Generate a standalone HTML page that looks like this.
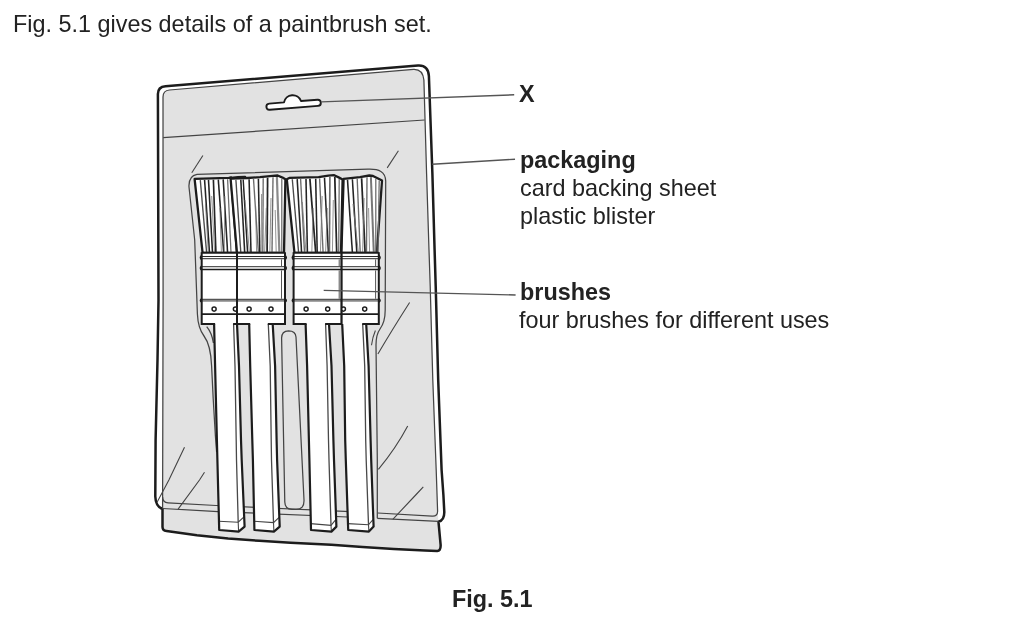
<!DOCTYPE html>
<html lang="en">
<head>
<meta charset="utf-8">
<title>Fig. 5.1</title>
<style>
html,body{margin:0;padding:0;background:#fff;}
body{width:1024px;height:617px;position:relative;overflow:hidden;font-family:"Liberation Sans",Arial,Helvetica,sans-serif;color:#222;}
svg{position:absolute;left:0;top:0;}
.t{position:absolute;white-space:nowrap;font-size:23.4px;line-height:30px;height:30px;will-change:transform;}
.b{font-weight:bold;}
</style>
</head>
<body>
<svg width="1024" height="617" viewBox="0 0 1024 617">
<path d="M157.9,94 C157.9,88.6 160.5,86.6 165.5,86.2 L418,65.6 C424.5,65.2 428.4,69 428.9,76 L432.4,174 L434.6,250 L435.7,286 L438.2,380 L441.6,470 L443.4,495 L444.3,512 Q444.4,520.4 438.5,521.8 L440.6,544.6 Q441,550.6 437.2,551 L437.2,551 L425,550.6 L393.8,549.1 L362.5,547 L331.3,544.8 L290.6,542.7 L259.4,540.8 L228.1,538.4 L196.9,535.3 L166.5,531 Q162.6,530.6 162.5,527 L162.5,509 Q155.6,506.6 155.3,496.5 L155.6,440 L157.5,360 L158.5,300 Z" fill="#fff" stroke="none"/>
<path d="M162.6,499 L163.0,97 C163.0,92.4 165,90.4 169.5,90.0 L413.5,69.3 C419.5,69 423.2,73 423.9,80 L426.6,174 L429.0,250 L430.2,286 L432.8,380 L436.2,470 L437.6,511 L438.5,521.8 L440.6,544.6 Q441,550.6 437.2,551 L437.2,551 L425,550.6 L393.8,549.1 L362.5,547 L331.3,544.8 L290.6,542.7 L259.4,540.8 L228.1,538.4 L196.9,535.3 L166.5,531 Q162.6,530.6 162.5,527 Z" fill="#e2e2e2" stroke="none"/>
<path d="M157.9,94 C157.9,88.6 160.5,86.6 165.5,86.2 L418,65.6 C424.5,65.2 428.4,69 428.9,76 L432.4,174 L434.6,250 L435.7,286 L438.2,380 L441.6,470 L443.4,495 L444.3,512 Q444.4,520.4 438.5,521.8 L440.6,544.6 Q441,550.6 437.2,551 L437.2,551 L425,550.6 L393.8,549.1 L362.5,547 L331.3,544.8 L290.6,542.7 L259.4,540.8 L228.1,538.4 L196.9,535.3 L166.5,531 Q162.6,530.6 162.5,527 L162.5,509 Q155.6,506.6 155.3,496.5 L155.6,440 L157.5,360 L158.5,300 Z" fill="none" stroke="#1c1c1c" stroke-width="2.5" stroke-linejoin="round"/>
<path d="M162.6,508.5 L162.6,499 L163.1,300 L163.0,97 C163.0,92.4 165,90.4 169.5,90.0 L413.5,69.3 C419.5,69 423.2,73 423.9,80 L426.6,174 L429.0,250 L430.2,286 L432.8,380 L436.2,470 L437.6,511 Q437.8,516.6 432,516.1 L377.8,513" fill="none" stroke="#444" stroke-width="1.25"/>
<path d="M162.6,497 Q162.8,502.6 168,502.9 L216,505.5 L372,512.7" fill="none" stroke="#444" stroke-width="1.25"/>
<path d="M162.6,508.5 L218,511.6 L372,518.0" fill="none" stroke="#444" stroke-width="1.25"/>
<path d="M377.3,518.3 L438.5,521.4" fill="none" stroke="#444" stroke-width="1.25"/>
<path d="M163.2,137.6 L424.6,120.0" fill="none" stroke="#444" stroke-width="1.25"/>
<path d="M269.2,103.6 L284.0,102.4 A8.85,8.85 0 0 1 301.0,101.0 L317.4,99.7 A3.1,3.1 0 0 1 318.0,105.9 L269.8,109.8 A3.1,3.1 0 0 1 269.2,103.6 Z" fill="#fff" stroke="#1c1c1c" stroke-width="1.9" stroke-linejoin="round"/>
<path d="M216.6,452 L215.4,436 L213.2,398.6 L211.6,366 Q210.8,345 204,336 Q198,328 197.4,314 L194.7,240 L189,187 Q188.4,176.0 197,174.4 L368,169.2 C379,168.8 385.4,171.6 385.7,181 L385.2,310 Q385.2,322 380,329 Q376,334.6 376,345 L377.3,460 L377.3,518.3" fill="none" stroke="#444" stroke-width="1.25"/>
<path d="M206.7,326.6 Q212,333 213.4,343" fill="none" stroke="#444" stroke-width="1.25"/>
<path d="M281.6,338 Q281.6,331 288.6,330.8 Q295.6,330.8 296,337 L304,500 Q304.4,509.4 296,509.4 L292,509.4 Q285,509.2 284.8,502 Z" fill="none" stroke="#444" stroke-width="1.25"/>
<path d="M202.9,155.5 L191.8,172.7" fill="none" stroke="#444" stroke-width="1.1"/>
<path d="M398.4,150.8 L387.2,167.9" fill="none" stroke="#444" stroke-width="1.1"/>
<path d="M409.6,302.5 Q392,330 377.9,354" fill="none" stroke="#444" stroke-width="1.1"/>
<path d="M375.4,330.5 Q372.6,337 371.5,345.2" fill="none" stroke="#444" stroke-width="1.1"/>
<path d="M184.5,447.2 L168.9,480 L157.2,501.9" fill="none" stroke="#444" stroke-width="1.1"/>
<path d="M204.5,472.2 L199.5,480 L178.1,509.2" fill="none" stroke="#444" stroke-width="1.1"/>
<path d="M407.7,425.9 Q396,448 378.4,469.3" fill="none" stroke="#444" stroke-width="1.1"/>
<path d="M423.3,486.9 L415.7,495 L392.8,519.3" fill="none" stroke="#444" stroke-width="1.1"/>
<path d="M194.6,178.9 L212.0,178.4 L228.8,177.8 L231.0,177.5 L237.0,253.0 L202.6,253.0Z" fill="#fff" stroke="#1c1c1c" stroke-width="2.3" stroke-linejoin="round"/>
<path d="M200.3,180.1 L206.6,252.6" fill="none" stroke="#4a4a4a" stroke-width="1.35"/>
<path d="M204.6,180.0 L209.5,252.6" fill="none" stroke="#242424" stroke-width="1.55"/>
<path d="M208.5,179.9 L212.5,252.6" fill="none" stroke="#242424" stroke-width="1.55"/>
<path d="M213.4,179.8 L215.9,252.6" fill="none" stroke="#242424" stroke-width="1.65"/>
<path d="M218.3,179.6 L223.7,252.6" fill="none" stroke="#242424" stroke-width="1.55"/>
<path d="M223.2,179.4 L227.6,252.6" fill="none" stroke="#242424" stroke-width="1.55"/>
<path d="M227.6,179.2 L231.0,252.6" fill="none" stroke="#6a6a6a" stroke-width="1.25"/>
<path d="M205.5,204.0 L208.3,252.6" fill="none" stroke="#777" stroke-width="0.8"/>
<path d="M211.7,196.0 L214.6,252.6" fill="none" stroke="#777" stroke-width="0.8"/>
<path d="M224.8,196.0 L224.2,252.6" fill="none" stroke="#777" stroke-width="0.8"/>
<path d="M219.9,208.0 L221.4,252.6" fill="none" stroke="#777" stroke-width="0.8"/>
<path d="M230.6,178.7 L247.4,178.0 L260.0,177.2 L272.7,175.9 L277.6,175.5 L282.5,177.6 L285.4,179.3 L284.0,253.0 L237.0,253.0Z" fill="#fff" stroke="#1c1c1c" stroke-width="2.3" stroke-linejoin="round"/>
<path d="M235.9,179.9 L240.8,252.6" fill="none" stroke="#4a4a4a" stroke-width="1.35"/>
<path d="M240.8,179.7 L244.7,252.6" fill="none" stroke="#242424" stroke-width="1.55"/>
<path d="M243.2,179.6 L247.6,252.6" fill="none" stroke="#242424" stroke-width="1.45"/>
<path d="M249.1,179.3 L251.0,252.6" fill="none" stroke="#242424" stroke-width="1.55"/>
<path d="M253.5,179.0 L258.4,252.6" fill="none" stroke="#6a6a6a" stroke-width="1.35"/>
<path d="M258.4,178.7 L259.8,252.6" fill="none" stroke="#242424" stroke-width="1.55"/>
<path d="M263.2,178.3 L262.8,252.6" fill="none" stroke="#6a6a6a" stroke-width="1.35"/>
<path d="M267.6,177.8 L267.1,252.6" fill="none" stroke="#242424" stroke-width="1.75"/>
<path d="M273.0,177.3 L272.0,252.6" fill="none" stroke="#6a6a6a" stroke-width="1.35"/>
<path d="M276.9,177.0 L279.4,252.6" fill="none" stroke="#8a8a8a" stroke-width="2.2"/>
<path d="M281.8,178.7 L281.8,252.6" fill="none" stroke="#6a6a6a" stroke-width="1.25"/>
<path d="M245.0,200.0 L249.4,252.6" fill="none" stroke="#777" stroke-width="0.8"/>
<path d="M255.6,206.0 L256.6,252.6" fill="none" stroke="#777" stroke-width="0.8"/>
<path d="M261.6,194.0 L261.2,252.6" fill="none" stroke="#777" stroke-width="0.8"/>
<path d="M266.3,208.0 L264.6,252.6" fill="none" stroke="#777" stroke-width="0.8"/>
<path d="M271.0,198.0 L269.8,252.6" fill="none" stroke="#777" stroke-width="0.8"/>
<path d="M275.2,210.0 L276.2,252.6" fill="none" stroke="#777" stroke-width="0.8"/>
<path d="M343.6,178.8 L360.0,177.1 L369.3,175.5 L373.0,176.0 L382.0,180.6 L376.8,253.0 L341.4,253.0Z" fill="#fff" stroke="#1c1c1c" stroke-width="2.3" stroke-linejoin="round"/>
<path d="M347.5,179.8 L352.4,252.6" fill="none" stroke="#242424" stroke-width="1.55"/>
<path d="M352.4,179.3 L356.8,252.6" fill="none" stroke="#242424" stroke-width="1.55"/>
<path d="M357.2,178.8 L360.2,252.6" fill="none" stroke="#6a6a6a" stroke-width="1.35"/>
<path d="M361.6,178.2 L365.1,252.6" fill="none" stroke="#242424" stroke-width="1.75"/>
<path d="M367.0,177.3 L366.5,252.6" fill="none" stroke="#6a6a6a" stroke-width="1.35"/>
<path d="M370.9,177.1 L373.8,252.6" fill="none" stroke="#777" stroke-width="2.0"/>
<path d="M375.8,178.8 L375.8,252.6" fill="none" stroke="#6a6a6a" stroke-width="1.25"/>
<path d="M379.2,180.6 L378.0,252.6" fill="none" stroke="#6a6a6a" stroke-width="1.25"/>
<path d="M353.0,204.0 L358.4,252.6" fill="none" stroke="#777" stroke-width="0.8"/>
<path d="M364.1,198.0 L362.6,252.6" fill="none" stroke="#777" stroke-width="0.8"/>
<path d="M368.6,208.0 L369.6,252.6" fill="none" stroke="#777" stroke-width="0.8"/>
<path d="M286.8,179.3 L289.3,177.9 L318.6,177.2 L328.4,175.7 L334.2,175.2 L339.1,177.6 L342.6,179.4 L341.0,253.0 L294.5,253.0Z" fill="#fff" stroke="#1c1c1c" stroke-width="2.3" stroke-linejoin="round"/>
<path d="M292.3,179.2 L298.6,252.6" fill="none" stroke="#4a4a4a" stroke-width="1.35"/>
<path d="M297.2,179.1 L301.6,252.6" fill="none" stroke="#242424" stroke-width="1.55"/>
<path d="M300.6,179.0 L304.5,252.6" fill="none" stroke="#6a6a6a" stroke-width="1.35"/>
<path d="M306.0,178.9 L307.4,252.6" fill="none" stroke="#242424" stroke-width="1.55"/>
<path d="M309.9,178.8 L315.7,252.6" fill="none" stroke="#242424" stroke-width="1.75"/>
<path d="M315.7,178.7 L317.2,252.6" fill="none" stroke="#242424" stroke-width="1.55"/>
<path d="M319.6,178.4 L323.1,252.6" fill="none" stroke="#6a6a6a" stroke-width="1.35"/>
<path d="M324.5,177.7 L328.4,252.6" fill="none" stroke="#242424" stroke-width="1.55"/>
<path d="M329.9,177.0 L329.4,252.6" fill="none" stroke="#6a6a6a" stroke-width="1.65"/>
<path d="M334.8,176.9 L336.7,252.6" fill="none" stroke="#242424" stroke-width="1.75"/>
<path d="M339.2,179.1 L338.7,252.6" fill="none" stroke="#6a6a6a" stroke-width="1.25"/>
<path d="M302.3,202.0 L306.0,252.6" fill="none" stroke="#777" stroke-width="0.8"/>
<path d="M313.1,208.0 L311.8,252.6" fill="none" stroke="#777" stroke-width="0.8"/>
<path d="M322.2,196.0 L320.4,252.6" fill="none" stroke="#777" stroke-width="0.8"/>
<path d="M327.3,208.0 L325.6,252.6" fill="none" stroke="#777" stroke-width="0.8"/>
<path d="M333.3,200.0 L332.4,252.6" fill="none" stroke="#777" stroke-width="0.8"/>
<path d="M231,178.0 L238,177.4 L245,177.0" fill="none" stroke="#1c1c1c" stroke-width="2.6" stroke-linecap="round"/>
<path d="M214.1,324.0 L215.1,366.0 L216.9,440.0 L217.4,460.0 L219.2,530.0 L238.6,531.6 L244.6,526.6 L241.7,460.0 L241.0,440.0 L239.0,366.0 L237.0,324.0Z" fill="#fff" stroke="none"/>
<path d="M233.6,324.0 L235.0,366.0 L236.2,440.0 L236.5,460.0 L238.2,522.2" fill="none" stroke="#484848" stroke-width="1.3"/>
<path d="M218.7,521.3 L238.2,522.2 L244.0,516.8" fill="none" stroke="#444" stroke-width="1.1"/>
<path d="M238.2,522.2 L238.6,531.6" fill="none" stroke="#444" stroke-width="1.1"/>
<path d="M214.1,324.0 L215.1,366.0 L216.9,440.0 L217.4,460.0 L219.2,530.0 L238.6,531.6 L244.6,526.6 L241.7,460.0 L241.0,440.0 L239.0,366.0 L237.0,324.0" fill="none" stroke="#1c1c1c" stroke-width="2.2" stroke-linejoin="round" stroke-linecap="butt"/>
<path d="M249.2,324.0 L250.2,366.0 L252.3,440.0 L252.9,460.0 L254.4,530.0 L273.9,531.6 L279.7,526.6 L277.1,460.0 L276.6,440.0 L275.1,366.0 L272.7,324.0Z" fill="#fff" stroke="none"/>
<path d="M268.3,324.0 L270.2,366.0 L271.2,440.0 L271.5,460.0 L273.5,522.6" fill="none" stroke="#484848" stroke-width="1.3"/>
<path d="M253.9,521.3 L273.5,522.6 L279.1,517.3" fill="none" stroke="#444" stroke-width="1.1"/>
<path d="M273.5,522.6 L273.9,531.6" fill="none" stroke="#444" stroke-width="1.1"/>
<path d="M249.2,324.0 L250.2,366.0 L252.3,440.0 L252.9,460.0 L254.4,530.0 L273.9,531.6 L279.7,526.6 L277.1,460.0 L276.6,440.0 L275.1,366.0 L272.7,324.0" fill="none" stroke="#1c1c1c" stroke-width="2.2" stroke-linejoin="round" stroke-linecap="butt"/>
<path d="M342.2,324.0 L344.2,366.0 L345.2,440.0 L345.8,460.0 L348.2,530.0 L368.9,531.6 L373.6,526.6 L371.2,460.0 L370.6,440.0 L368.6,366.0 L366.2,324.0Z" fill="#fff" stroke="none"/>
<path d="M362.7,324.0 L364.7,366.0 L365.7,440.0 L366.2,460.0 L368.5,524.8" fill="none" stroke="#484848" stroke-width="1.3"/>
<path d="M347.7,523.6 L368.5,524.8 L373.0,519.7" fill="none" stroke="#444" stroke-width="1.1"/>
<path d="M368.5,524.8 L368.9,531.6" fill="none" stroke="#444" stroke-width="1.1"/>
<path d="M342.2,324.0 L344.2,366.0 L345.2,440.0 L345.8,460.0 L348.2,530.0 L368.9,531.6 L373.6,526.6 L371.2,460.0 L370.6,440.0 L368.6,366.0 L366.2,324.0" fill="none" stroke="#1c1c1c" stroke-width="2.2" stroke-linejoin="round" stroke-linecap="butt"/>
<path d="M305.6,324.0 L307.1,366.0 L308.9,440.0 L309.4,460.0 L311.0,530.0 L331.4,531.6 L336.4,526.6 L334.0,460.0 L333.4,440.0 L331.5,366.0 L329.0,324.0Z" fill="#fff" stroke="none"/>
<path d="M325.6,324.0 L327.1,366.0 L328.5,440.0 L329.0,460.0 L331.0,525.4" fill="none" stroke="#484848" stroke-width="1.3"/>
<path d="M310.5,523.6 L331.0,525.4 L335.8,519.7" fill="none" stroke="#444" stroke-width="1.1"/>
<path d="M331.0,525.4 L331.4,531.6" fill="none" stroke="#444" stroke-width="1.1"/>
<path d="M305.6,324.0 L307.1,366.0 L308.9,440.0 L309.4,460.0 L311.0,530.0 L331.4,531.6 L336.4,526.6 L334.0,460.0 L333.4,440.0 L331.5,366.0 L329.0,324.0" fill="none" stroke="#1c1c1c" stroke-width="2.2" stroke-linejoin="round" stroke-linecap="butt"/>
<rect x="201.7" y="253.0" width="35.3" height="71.0" fill="#fff" stroke="none"/>
<path d="M201.7,255.2 Q199.1,257.5 201.7,259.8" fill="#fff" stroke="#1c1c1c" stroke-width="1.5"/>
<path d="M201.7,265.7 Q199.1,268.0 201.7,270.3" fill="#fff" stroke="#1c1c1c" stroke-width="1.5"/>
<path d="M201.7,298.6 Q199.1,300.4 201.7,302.2" fill="#fff" stroke="#1c1c1c" stroke-width="1.5"/>
<path d="M201.7,252.7 L237.0,252.7" stroke="#1c1c1c" stroke-width="2.1" fill="none"/>
<path d="M201.7,256.5 L237.0,256.5" stroke="#2a2a2a" stroke-width="1.2" fill="none"/>
<path d="M201.7,258.7 L237.0,258.7" stroke="#555" stroke-width="1.3" fill="none"/>
<path d="M201.7,266.6 L237.0,266.6" stroke="#555" stroke-width="1.3" fill="none"/>
<path d="M201.7,269.4 L237.0,269.4" stroke="#1c1c1c" stroke-width="1.5" fill="none"/>
<path d="M201.7,299.3 L237.0,299.3" stroke="#2a2a2a" stroke-width="1.0" fill="none"/>
<path d="M201.7,300.9 L237.0,300.9" stroke="#888" stroke-width="1.8" fill="none"/>
<path d="M201.7,314.2 L237.0,314.2" stroke="#1c1c1c" stroke-width="1.7" fill="none"/>
<path d="M201.7,252.2 L201.7,325.0" fill="none" stroke="#1c1c1c" stroke-width="2"/>
<path d="M237.0,252.2 L237.0,325.0" fill="none" stroke="#1c1c1c" stroke-width="2"/>
<path d="M201.7,324.0 L215.1,324.0" fill="none" stroke="#1c1c1c" stroke-width="2"/>
<path d="M233.1,324.0 L237.0,324.0" fill="none" stroke="#1c1c1c" stroke-width="2"/>
<circle cx="214.1" cy="309.1" r="2.05" fill="#fff" stroke="#1c1c1c" stroke-width="1.45"/>
<circle cx="235.4" cy="309.1" r="2.05" fill="#fff" stroke="#1c1c1c" stroke-width="1.45"/>
<rect x="341.4" y="253.0" width="37.4" height="71.0" fill="#fff" stroke="none"/>
<path d="M378.8,255.2 Q381.4,257.5 378.8,259.8" fill="#fff" stroke="#1c1c1c" stroke-width="1.5"/>
<path d="M378.8,265.7 Q381.4,268.0 378.8,270.3" fill="#fff" stroke="#1c1c1c" stroke-width="1.5"/>
<path d="M378.8,298.6 Q381.4,300.4 378.8,302.2" fill="#fff" stroke="#1c1c1c" stroke-width="1.5"/>
<path d="M341.4,252.7 L378.8,252.7" stroke="#1c1c1c" stroke-width="2.1" fill="none"/>
<path d="M341.4,256.5 L378.8,256.5" stroke="#2a2a2a" stroke-width="1.2" fill="none"/>
<path d="M341.4,258.7 L378.8,258.7" stroke="#555" stroke-width="1.3" fill="none"/>
<path d="M341.4,266.6 L378.8,266.6" stroke="#555" stroke-width="1.3" fill="none"/>
<path d="M341.4,269.4 L378.8,269.4" stroke="#1c1c1c" stroke-width="1.5" fill="none"/>
<path d="M341.4,299.3 L378.8,299.3" stroke="#2a2a2a" stroke-width="1.0" fill="none"/>
<path d="M341.4,300.9 L378.8,300.9" stroke="#888" stroke-width="1.8" fill="none"/>
<path d="M341.4,314.2 L378.8,314.2" stroke="#1c1c1c" stroke-width="1.7" fill="none"/>
<path d="M341.4,252.2 L341.4,325.0" fill="none" stroke="#1c1c1c" stroke-width="2"/>
<path d="M378.8,252.2 L378.8,325.0" fill="none" stroke="#1c1c1c" stroke-width="2"/>
<path d="M362.2,324.0 L378.8,324.0" fill="none" stroke="#1c1c1c" stroke-width="2"/>
<path d="M375.6,259.4 L375.6,266 M375.6,270.4 L375.6,298.8" fill="none" stroke="#555" stroke-width="1.0"/>
<circle cx="343.4" cy="309.1" r="2.05" fill="#fff" stroke="#1c1c1c" stroke-width="1.45"/>
<circle cx="364.7" cy="309.1" r="2.05" fill="#fff" stroke="#1c1c1c" stroke-width="1.45"/>
<rect x="237.0" y="253.0" width="48.0" height="71.0" fill="#fff" stroke="none"/>
<path d="M285.0,255.2 Q287.6,257.5 285.0,259.8" fill="#fff" stroke="#1c1c1c" stroke-width="1.5"/>
<path d="M285.0,265.7 Q287.6,268.0 285.0,270.3" fill="#fff" stroke="#1c1c1c" stroke-width="1.5"/>
<path d="M285.0,298.6 Q287.6,300.4 285.0,302.2" fill="#fff" stroke="#1c1c1c" stroke-width="1.5"/>
<path d="M237.0,252.7 L285.0,252.7" stroke="#1c1c1c" stroke-width="2.1" fill="none"/>
<path d="M237.0,256.5 L285.0,256.5" stroke="#2a2a2a" stroke-width="1.2" fill="none"/>
<path d="M237.0,258.7 L285.0,258.7" stroke="#555" stroke-width="1.3" fill="none"/>
<path d="M237.0,266.6 L285.0,266.6" stroke="#555" stroke-width="1.3" fill="none"/>
<path d="M237.0,269.4 L285.0,269.4" stroke="#1c1c1c" stroke-width="1.5" fill="none"/>
<path d="M237.0,299.3 L285.0,299.3" stroke="#2a2a2a" stroke-width="1.0" fill="none"/>
<path d="M237.0,300.9 L285.0,300.9" stroke="#888" stroke-width="1.8" fill="none"/>
<path d="M237.0,314.2 L285.0,314.2" stroke="#1c1c1c" stroke-width="1.7" fill="none"/>
<path d="M237.0,252.2 L237.0,325.0" fill="none" stroke="#1c1c1c" stroke-width="2"/>
<path d="M285.0,252.2 L285.0,325.0" fill="none" stroke="#1c1c1c" stroke-width="2"/>
<path d="M237.0,324.0 L250.2,324.0" fill="none" stroke="#1c1c1c" stroke-width="2"/>
<path d="M267.8,324.0 L285.0,324.0" fill="none" stroke="#1c1c1c" stroke-width="2"/>
<path d="M281.5,259.4 L281.5,266 M281.5,270.4 L281.5,298.8" fill="none" stroke="#555" stroke-width="1.0"/>
<circle cx="249.1" cy="309.1" r="2.05" fill="#fff" stroke="#1c1c1c" stroke-width="1.45"/>
<circle cx="271.0" cy="309.1" r="2.05" fill="#fff" stroke="#1c1c1c" stroke-width="1.45"/>
<rect x="293.6" y="253.0" width="47.8" height="71.0" fill="#fff" stroke="none"/>
<path d="M293.6,255.2 Q291.0,257.5 293.6,259.8" fill="#fff" stroke="#1c1c1c" stroke-width="1.5"/>
<path d="M293.6,265.7 Q291.0,268.0 293.6,270.3" fill="#fff" stroke="#1c1c1c" stroke-width="1.5"/>
<path d="M293.6,298.6 Q291.0,300.4 293.6,302.2" fill="#fff" stroke="#1c1c1c" stroke-width="1.5"/>
<path d="M293.6,252.7 L341.4,252.7" stroke="#1c1c1c" stroke-width="2.1" fill="none"/>
<path d="M293.6,256.5 L341.4,256.5" stroke="#2a2a2a" stroke-width="1.2" fill="none"/>
<path d="M293.6,258.7 L341.4,258.7" stroke="#555" stroke-width="1.3" fill="none"/>
<path d="M293.6,266.6 L341.4,266.6" stroke="#555" stroke-width="1.3" fill="none"/>
<path d="M293.6,269.4 L341.4,269.4" stroke="#1c1c1c" stroke-width="1.5" fill="none"/>
<path d="M293.6,299.3 L341.4,299.3" stroke="#2a2a2a" stroke-width="1.0" fill="none"/>
<path d="M293.6,300.9 L341.4,300.9" stroke="#888" stroke-width="1.8" fill="none"/>
<path d="M293.6,314.2 L341.4,314.2" stroke="#1c1c1c" stroke-width="1.7" fill="none"/>
<path d="M293.6,252.2 L293.6,325.0" fill="none" stroke="#1c1c1c" stroke-width="2"/>
<path d="M341.4,252.2 L341.4,325.0" fill="none" stroke="#1c1c1c" stroke-width="2"/>
<path d="M293.6,324.0 L306.6,324.0" fill="none" stroke="#1c1c1c" stroke-width="2"/>
<path d="M325.1,324.0 L341.4,324.0" fill="none" stroke="#1c1c1c" stroke-width="2"/>
<path d="M339.2,259.4 L339.2,266 M339.2,270.4 L339.2,298.8" fill="none" stroke="#555" stroke-width="1.0"/>
<circle cx="306.1" cy="309.1" r="2.05" fill="#fff" stroke="#1c1c1c" stroke-width="1.45"/>
<circle cx="327.7" cy="309.1" r="2.05" fill="#fff" stroke="#1c1c1c" stroke-width="1.45"/>
<path d="M321.2,101.9 L514.2,94.8" fill="none" stroke="#555" stroke-width="1.4"/>
<path d="M432.3,164.2 L515,159.2" fill="none" stroke="#555" stroke-width="1.4"/>
<path d="M323.7,290.4 L515.6,295.0" fill="none" stroke="#555" stroke-width="1.4"/>
</svg>
<div class="t" style="left:12.65px;top:9px">Fig. 5.1 gives details of a paintbrush set.</div>
<div class="t b" style="left:519.1px;top:79px">X</div>
<div class="t b" style="left:519.6px;top:145px">packaging</div>
<div class="t" style="left:519.6px;top:173px">card backing sheet</div>
<div class="t" style="left:519.6px;top:201px">plastic blister</div>
<div class="t b" style="left:519.6px;top:277px">brushes</div>
<div class="t" style="left:519.4px;top:305px">four brushes for different uses</div>
<div class="t b" style="left:452.0px;top:584px">Fig. 5.1</div>
</body>
</html>
